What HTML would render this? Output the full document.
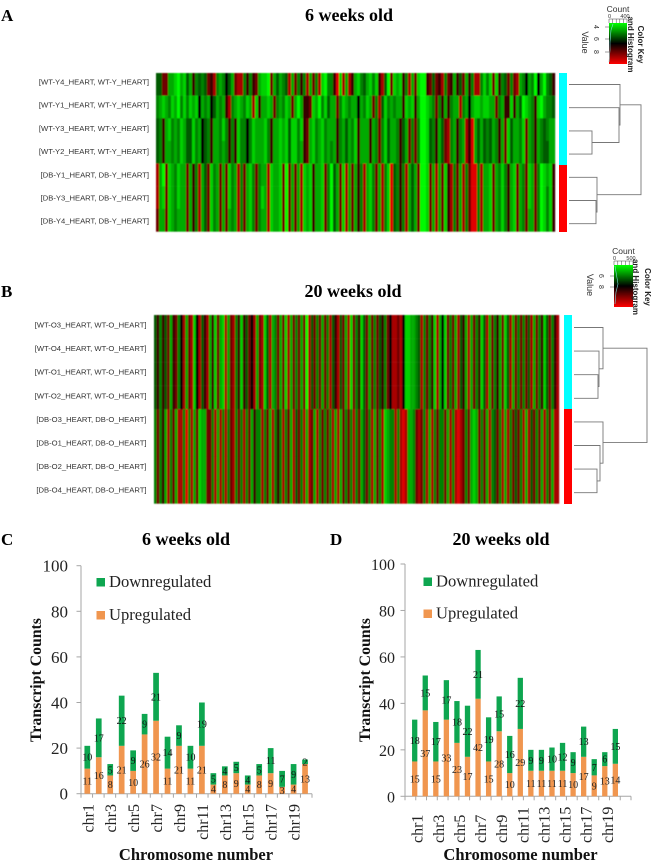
<!DOCTYPE html>
<html>
<head>
<meta charset="utf-8">
<title>Heatmaps and transcript counts</title>
<style>
html,body{margin:0;padding:0;background:#fff;}
svg{display:block;}
text{font-family:"Liberation Serif",serif;}
.sans{font-family:"Liberation Sans",sans-serif;}
</style>
</head>
<body>
<svg id="fig" xmlns="http://www.w3.org/2000/svg" width="651" height="862" viewBox="0 0 651 862">
  <defs>
    <linearGradient id="keyGrad" x1="0" y1="0" x2="0" y2="1">
      <stop offset="0" stop-color="#00ff00"/>
      <stop offset="0.5" stop-color="#000000"/>
      <stop offset="1" stop-color="#ff0000"/>
    </linearGradient>
    <filter id="soft" x="-2%" y="-2%" width="104%" height="104%"><feGaussianBlur stdDeviation="0.45"/></filter>
    <filter id="softer" x="-2%" y="-2%" width="104%" height="104%"><feGaussianBlur stdDeviation="0.3"/></filter>
  </defs>
  <g id="root"></g>
</svg>
<script>
// ---------- Heatmap data: values read by eye; 0 = red, 4 = black, 9 = bright green ----------
const rowLabelsA = ["[WT-Y4_HEART, WT-Y_HEART]","[WT-Y1_HEART, WT-Y_HEART]","[WT-Y3_HEART, WT-Y_HEART]","[WT-Y2_HEART, WT-Y_HEART]","[DB-Y1_HEART, DB-Y_HEART]","[DB-Y3_HEART, DB-Y_HEART]","[DB-Y4_HEART, DB-Y_HEART]"];
const rowLabelsB = ["[WT-O3_HEART, WT-O_HEART]","[WT-O4_HEART, WT-O_HEART]","[WT-O1_HEART, WT-O_HEART]","[WT-O2_HEART, WT-O_HEART]","[DB-O3_HEART, DB-O_HEART]","[DB-O1_HEART, DB-O_HEART]","[DB-O2_HEART, DB-O_HEART]","[DB-O4_HEART, DB-O_HEART]"];

const heatY4 = "5522778978 5736565231 6764572116 3632788927 5765172636 1726189663 0817137865 7868315928 7836172899 3252316237 3527361168 6828365262 1764769479 653";
const heatY1 = "6787687968 6878476745 7673167876 8718377872 6768727973 3287968577 2687677476 8726158676 7738783799 8762637367 7167478878 8772673383 7598763897 665";
const heatY3 = "5637867687 5586745637 7686363866 4687778637 7878588683 2786786777 3675768377 7376268577 6357262699 8563752167 3671307575 6576372857 7682763765 677";
const heatY2 = "5637767687 5586745637 7676363866 4687778637 7878588673 2786786767 3675768377 7376268577 6357262699 8563752167 3671307575 6576372857 7682763765 577";
const heatDB1 = "1792876877 2736175286 7272867162 7862677187 7829272718 7837782695 7281727361 7862716805 6361757299 8271728316 2716200617 7827686378 2762872698 783";
const heatDB3 = "1782876877 2736175286 7272867162 7862687187 7829272718 7837782695 7281727361 7862716805 6361757299 8271728316 2716200617 7827686378 2762872698 683";
const heatDB4 = "2772876777 2736175286 7272767162 7862677187 7829272718 7837782695 7281727361 7862716805 6361757299 8271728316 2716200617 7827686378 2762772698 683";
const heatWT = "5363527326 4172184153 1738278172 1638352417 2185176272 8172627291 5262726153 1527182638 5272625362 4112148877 6516263817 4826271537 1726385172 6372851726 2625172638 52631";
const heatDB = "6263716271 1606172877 2261716162 1626162736 6162716361 6271526171 2716262617 1726261627 5261726187 6616101776 2126171626 6271610126 2787262716 5261716252 6171526271 62711";

const rowsA = [heatY4, heatY1, heatY3, heatY2, heatDB1, heatDB3, heatDB4];
const rowsB = [heatWT, heatWT, heatWT, heatWT, heatDB, heatDB, heatDB, heatDB];

// ---------- Bar chart data ----------
const chromosomes = ["chr1","chr2","chr3","chr4","chr5","chr6","chr7","chr8","chr9","chr10","chr11","chr12","chr13","chr14","chr15","chr16","chr17","chr18","chr19","chr20"];
const yTicks = [0,20,40,60,80,100];
const up6 = [11,16,8,21,10,26,32,11,21,11,21,4,8,9,4,8,9,3,4,13];
const down6 = [10,17,5,22,9,9,21,14,9,10,19,5,4,5,4,5,11,7,9,2];
const up20 = [15,37,15,33,23,17,42,15,28,10,29,11,11,11,11,10,17,9,13,14];
const down20 = [18,15,17,17,18,22,21,19,15,16,22,9,9,10,12,9,13,7,6,15];

// Dendrogram merge heights: [height, childA, childB]; numbers at leaves are row indices
const treeA = [72,[51,0,[50,1,[23,2,3]]],[28,4,[27,5,6]]];
const treeB = [73,[29,0,[25,1,[24,2,3]]],[29,4,[26,5,[23,6,7]]]];

const NS = "http://www.w3.org/2000/svg";
const root = document.getElementById("root");

function mk(tag, attrs, parent) {
  const e = document.createElementNS(NS, tag);
  for (const k in attrs) e.setAttribute(k, attrs[k]);
  (parent || root).appendChild(e);
  return e;
}
function txt(str, x, y, size, attrs, parent, rot) {
  const a = Object.assign({x: x, y: y, "font-size": size, fill: "#111"}, attrs || {});
  if (rot) a.transform = "rotate(" + rot + " " + x + " " + y + ")";
  const e = mk("text", a, parent);
  e.textContent = str;
  return e;
}
function heatColor(v) {
  if (v <= 4) {
    const r = Math.round((4 - v) * 56);
    return "rgb(" + r + ",0,0)";
  }
  const g = Math.round(50 + (v - 4) * 40);
  return "rgb(0," + g + ",0)";
}

function drawHeatmap(name, rows, x0, x1, y0, y1, labels, labelRight, labelStart) {
  const g = mk("g", {filter: "url(#soft)"});
  
  
  const rh = (y1 - y0) / rows.length;
  rows.forEach(function (row, r) {
    const vals = row.replace(/ /g, "").split("").map(Number);
    const cw = (x1 - x0) / vals.length;
    vals.forEach(function (v, c) {
      const cell = mk("rect", {x: x0 + c * cw, y: y0 + r * rh, width: cw + 0.2, height: rh + 0.2, fill: heatColor(v)}, g);
      
      
    });
  });
  labels.forEach(function (s, r) {
    const t = txt(s, labelRight, labelStart + r * ((rows.length > 7) ? 23.6 : 23.2), 7.65, {"text-anchor": "end", fill: "#333", class: "sans", filter: "url(#softer)"});
    
    
  });
}

function drawSidebar(name, x, w, y0, split, y1) {
  const g = mk("g", {});
  
  
  mk("rect", {x: x, y: y0, width: w, height: split - y0, fill: "#00ffff"}, g);
  mk("rect", {x: x, y: split, width: w, height: y1 - split, fill: "#ff0000"}, g);
}

function drawTree(name, tree, leafX, rowY) {
  const g = mk("g", {stroke: "#777", "stroke-width": 0.9, fill: "none"});
  
  
  function walk(n) {
    if (typeof n === "number") return {x: leafX, y: rowY(n)};
    const a = walk(n[1]), b = walk(n[2]);
    const x = leafX + n[0];
    mk("path", {d: "M" + a.x + " " + a.y + "H" + x + "V" + b.y + "H" + b.x}, g);
    return {x: x, y: (a.y + b.y) / 2};
  }
  walk(tree);
}

function drawKey(name, kx, ky, kw, kh, tickLabels, tickYs, histPts, c) {
  const g = mk("g", {filter: "url(#softer)"});
  
  
  mk("rect", {x: kx, y: ky, width: kw, height: kh, fill: "url(#keyGrad)"}, g);
  mk("polyline", {points: histPts, fill: "none", stroke: "#7fe0e0", "stroke-width": 0.6}, g);
  for (let i = 0; i < 6; i++) {
    const tx = kx + i * kw / 5;
    mk("line", {x1: tx, x2: tx, y1: ky - 4, y2: ky, stroke: "#444", "stroke-width": 0.5}, g);
  }
  mk("line", {x1: kx, x2: kx + kw, y1: ky - 4, y2: ky - 4, stroke: "#444", "stroke-width": 0.5}, g);
  tickYs.forEach(function (ty, i) {
    mk("line", {x1: kx - 4, x2: kx, y1: ty, y2: ty, stroke: "#444", "stroke-width": 0.5}, g);
    txt(tickLabels[i], c.tickX, ty, 7, {"text-anchor": "middle", class: "sans", fill: "#333"}, g, 90);
  });
  txt("Count", kx + kw / 2, ky - 11, 8.5, {"text-anchor": "middle", class: "sans", fill: "#333"}, g);
  txt("0", kx + 0.5, ky - 5, 5.5, {"text-anchor": "middle", class: "sans", fill: "#333"}, g);
  txt(c.max, kx + kw - 2, ky - 5, 5.5, {"text-anchor": "middle", class: "sans", fill: "#333"}, g);
  txt("Value", c.valueX, ky + kh / 2 - 1, 9, {"text-anchor": "middle", class: "sans", fill: "#333"}, g, 90);
  txt("and Histogram", c.histX, ky + kh / 2 + 1, 8, {"text-anchor": "middle", class: "sans", "font-weight": "bold", fill: "#222"}, g, 90);
  txt("Color Key", c.colorX, ky + kh / 2 + 1, 8, {"text-anchor": "middle", class: "sans", "font-weight": "bold", fill: "#222"}, g, 90);
}

function drawBars(name, cfg, up, down) {
  const g = mk("g", {});
  
  
  const y = function (v) { return cfg.y0 - v * (cfg.y0 - cfg.y100) / 100; };
  const xc = function (i) { return cfg.first + i * cfg.step; };
  const barW = cfg.barW;

  const axes = mk("g", {stroke: "#a6a6a6", "stroke-width": 1, fill: "none"}, g);
  
  
  mk("line", {x1: cfg.ax, x2: cfg.ax, y1: cfg.y100, y2: cfg.y0}, axes);
  mk("line", {x1: cfg.ax, x2: cfg.axEnd, y1: cfg.y0, y2: cfg.y0}, axes);
  yTicks.forEach(function (t) {
    mk("line", {x1: cfg.ax - 4.5, x2: cfg.ax, y1: y(t), y2: y(t)}, axes);
    const l = txt(String(t), cfg.ax - cfg.tickGap, y(t) + 6, cfg.tickSize, {"text-anchor": "end", fill: "#222"}, g);
    
    
  });
  const nTicks = Math.round((cfg.axEnd - cfg.ax) / cfg.step);
  for (let i = 0; i <= nTicks; i++) {
    const tx = cfg.ax + i * (cfg.axEnd - cfg.ax) / nTicks;
    mk("line", {x1: tx, x2: tx, y1: cfg.y0, y2: cfg.y0 + 4}, axes);
  }

  chromosomes.forEach(function (c, i) {
    const bu = mk("rect", {x: xc(i) - barW / 2, y: y(up[i]), width: barW, height: cfg.y0 - y(up[i]), fill: "#f0964f"}, g);
    
    
    const bd = mk("rect", {x: xc(i) - barW / 2, y: y(up[i] + down[i]), width: barW, height: y(up[i]) - y(up[i] + down[i]), fill: "#0ea650"}, g);
    
    
  });
  chromosomes.forEach(function (c, i) {
    const a = txt(String(up[i]), xc(i), y(up[i] / 2) + 3.5, 10, {"text-anchor": "middle", fill: "#222"}, g);
    
    
    const b = txt(String(down[i]), xc(i), y(up[i] + down[i] / 2) + 3.5, 10, {"text-anchor": "middle", fill: "#111"}, g);
    
    
    if (i % 2 === 0) {
      const lx = xc(i) + cfg.labDx;
      const t = txt(c, lx, cfg.labY, 16, {"text-anchor": cfg.labAnchor, fill: "#222"}, g, -90);
      
      
    }
  });

  const s1 = mk("rect", {x: cfg.legX, y: cfg.legY1 - 4, width: 8.5, height: 8.5, fill: "#0ea650"}, g);
  
  
  const l1 = txt("Downregulated", cfg.legX + 12.5, cfg.legY1 + 5, 16.6, {fill: "#222"}, g);
  
  
  const s2 = mk("rect", {x: cfg.legX, y: cfg.legY2 - 4, width: 8.5, height: 8.5, fill: "#f0964f"}, g);
  
  
  const l2 = txt("Upregulated", cfg.legX + 12.5, cfg.legY2 + 5, 16.6, {fill: "#222"}, g);
  
  

  const yt = txt("Transcript Counts", cfg.ytX, cfg.ytY, 15.8, {"text-anchor": "middle", "font-weight": "bold", fill: "#111"}, g, -90);
  
  
  const xt = txt("Chromosome number", cfg.xtX, 860, 16.5, {"text-anchor": "middle", "font-weight": "bold", fill: "#111"}, g);
  
  
}

function heading(str, x, y, size, anchor, name) {
  const t = txt(str, x, y, size, {"text-anchor": anchor, "font-weight": "bold", fill: "#000"});
  
  
}

// Panel headings
heading("A", 1, 21, 17, "start", "panel-letter-a");
heading("B", 1, 297, 17, "start", "panel-letter-b");
heading("C", 1, 545, 17, "start", "panel-letter-c");
heading("D", 330, 545, 17, "start", "panel-letter-d");
heading("6 weeks old", 349, 21, 18, "middle", "title-heatmap-6-weeks");
heading("20 weeks old", 353, 297, 18, "middle", "title-heatmap-20-weeks");
heading("6 weeks old", 186, 545, 18, "middle", "title-bars-6-weeks");
heading("20 weeks old", 501, 545, 18, "middle", "title-bars-20-weeks");

// Heatmaps
drawHeatmap("heatmap-6-weeks", rowsA, 156, 555, 73, 231.5, rowLabelsA, 149, 84.5);
drawHeatmap("heatmap-20-weeks", rowsB, 154, 559, 315, 503.5, rowLabelsB, 146.5, 327.5);
drawSidebar("group-sidebar-6-weeks", 559, 8, 73, 165, 232);
drawSidebar("group-sidebar-20-weeks", 564, 8, 315, 409, 504);
drawTree("dendrogram-6-weeks", treeA, 569, function (r) { return 84.5 + r * 23.2; });
drawTree("dendrogram-20-weeks", treeB, 574, function (r) { return 327.5 + r * 23.6; });

drawKey("color-key-6-weeks", 609, 23, 18, 41, ["4","6","8"], [27, 39, 52],
  "609,62 610,50 610,42 611,30 613,24",
  {tickX: 594, max: "400", valueX: 582, histX: 628, colorX: 638});
drawKey("color-key-20-weeks", 614, 265, 19, 42, ["6","8"], [276, 287],
  "615,304 616,292 618,284 616,272 615,266",
  {tickX: 599, max: "500", valueX: 587, histX: 633, colorX: 645});

// Bar charts
drawBars("bar-chart-6-weeks", {
  ax: 81, axEnd: 312, y0: 793.7, y100: 565.7, first: 87.3, step: 11.46, barW: 5.7,
  labDx: 6, labY: 804, labAnchor: "end", tickGap: 13, tickSize: 17,
  legX: 96.5, legY1: 582, legY2: 615, ytX: 41, ytY: 680, xtX: 196
}, up6, down6);
drawBars("bar-chart-20-weeks", {
  ax: 405, axEnd: 631, y0: 796.3, y100: 564, first: 414.7, step: 10.56, barW: 5.3,
  labDx: 8, labY: 843, labAnchor: "start", tickGap: 10, tickSize: 16,
  legX: 423.5, legY1: 581.5, legY2: 613.5, ytX: 370, ytY: 680, xtX: 520.5
}, up20, down20);
</script>
</body>
</html>
